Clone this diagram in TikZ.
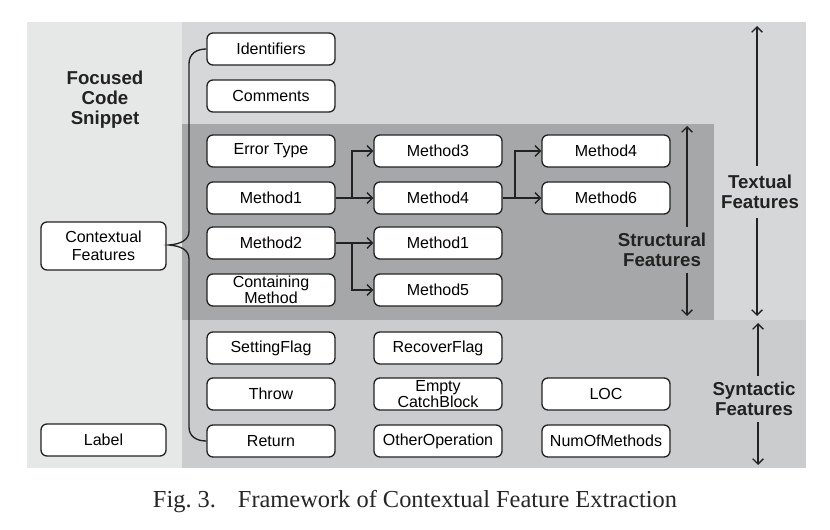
\documentclass[tikz,border=0pt]{standalone}
\usepackage{fontspec}
\setmainfont{Liberation Sans}
\newfontfamily\capfont{Liberation Serif}
\usetikzlibrary{arrows.meta}
\definecolor{leftbg}{HTML}{E6E7E7}
\definecolor{textbg}{HTML}{D6D7D9}
\definecolor{synbg}{HTML}{CBCCCE}
\definecolor{structbg}{HTML}{A6A7A9}
\definecolor{ink}{HTML}{222222}
\begin{document}
\begin{tikzpicture}[x=0.75pt,y=-0.75pt,
  box/.style={draw=ink, line width=1pt, rounded corners=4.5pt, fill=white,
    minimum width=96pt, minimum height=24pt, inner sep=1pt, align=center,
    font=\fontsize{12}{9.4}\selectfont},
  lbl/.style={font=\fontsize{14}{15}\selectfont\bfseries, align=center, inner sep=2pt, text=ink},
  arr/.style={-{Straight Barb[length=4pt,width=8pt]}, line width=1pt, draw=ink},
  bracel/.style={line width=1pt, draw=ink}]
% canvas
\useasboundingbox (0,0) rectangle (830,530);
\fill[white] (0,0) rectangle (830,530);
% backgrounds
\fill[leftbg] (27,22) rectangle (182,468);
\fill[textbg] (182,22) rectangle (806,320);
\fill[synbg] (182,320) rectangle (806,468);
\fill[structbg] (182,124) rectangle (714,320);

% left column
\node[lbl] (fcs) at (105,100) {Focused\\Code\\Snippet};
\node[box, minimum width=93.75pt, minimum height=36pt] (cf) at (103.5,246) {Contextual\\[4pt]Features};
\node[box, minimum width=93.75pt] (label) at (103.5,440) {Label};

% column 1
\node[box] (ident) at (271,49) {Identifiers};
\node[box] (comm) at (271,96) {Comments};
\node[box] (etype) at (271,151) {Error Type};
\node[box] (ma1) at (271,198) {Method1};
\node[box] (ma2) at (271,243) {Method2};
\node[box] (cont) at (271,290) {Containing\\Method};
\node[box] (setf) at (271,348) {SettingFlag};
\node[box] (throw) at (271,394) {Throw};
\node[box] (ret) at (271,441) {Return};

% column 2
\node[box] (mb3) at (438,151) {Method3};
\node[box] (mb4) at (438,198) {Method4};
\node[box] (mb1) at (438,243) {Method1};
\node[box] (mb5) at (438,290) {Method5};
\node[box] (recf) at (438,348) {RecoverFlag};
\node[box] (ecb) at (438,394) {Empty\\CatchBlock};
\node[box] (oop) at (438,441) {OtherOperation};

% column 3
\node[box] (mc4) at (606,151) {Method4};
\node[box] (mc6) at (606,198) {Method6};
\node[box] (loc) at (606,394) {LOC};
\node[box] (nom) at (606,441) {NumOfMethods};

% brace
\coordinate (tip) at (169,245);
\draw[bracel] (ident.west) .. controls (196,49) and (189,54) .. (189,64) -- (189,231)
  .. controls (189,240) and (181,244) .. (tip)
  .. controls (181,246) and (189,250) .. (189,259) -- (189,427)
  .. controls (189,436) and (196,441) .. (ret.west);

% structural arrows
\coordinate (b1) at (352,198);
\coordinate (b2) at (352,243);
\coordinate (b3) at (515,198);
\draw[arr] (ma1.east) -- (mb4.west);
\draw[arr] (b1) |- (mb3.west);
\draw[arr] (ma2.east) -- (mb1.west);
\draw[arr] (b2) |- (mb5.west);
\draw[arr] (mb4.east) -- (mc6.west);
\draw[arr] (b3) |- (mc4.west);

% side labels with double arrows
\node[lbl] (sf) at (662,250) {Structural\\Features};
\coordinate (st) at (687,126);
\coordinate (sb) at (687,316);
\draw[arr] (sf.north -| st) ++(0,-3) -- (st);
\draw[arr] (sf.south -| sb) ++(0,3) -- (sb);

\node[lbl] (tf) at (760,192) {Textual\\Features};
\coordinate (tt) at (757,26);
\coordinate (tb) at (757,316);
\draw[arr] (tf.north -| tt) ++(0,-6) -- (tt);
\draw[arr] (tf.south -| tb) ++(0,6) -- (tb);

\node[lbl] (syf) at (754,399) {Syntactic\\Features};
\coordinate (yt) at (758,323);
\coordinate (yb) at (758,465);
\draw[arr] (syf.north -| yt) ++(0,-3) -- (yt);
\draw[arr] (syf.south -| yb) ++(0,3) -- (yb);

% caption
\node[font=\capfont\fontsize{18.3}{20}\selectfont, text=black!85] (cap) at (415,502)
  {Fig.~3.\hspace{0.9em}Framework of Contextual Feature Extraction};
\end{tikzpicture}
\end{document}
